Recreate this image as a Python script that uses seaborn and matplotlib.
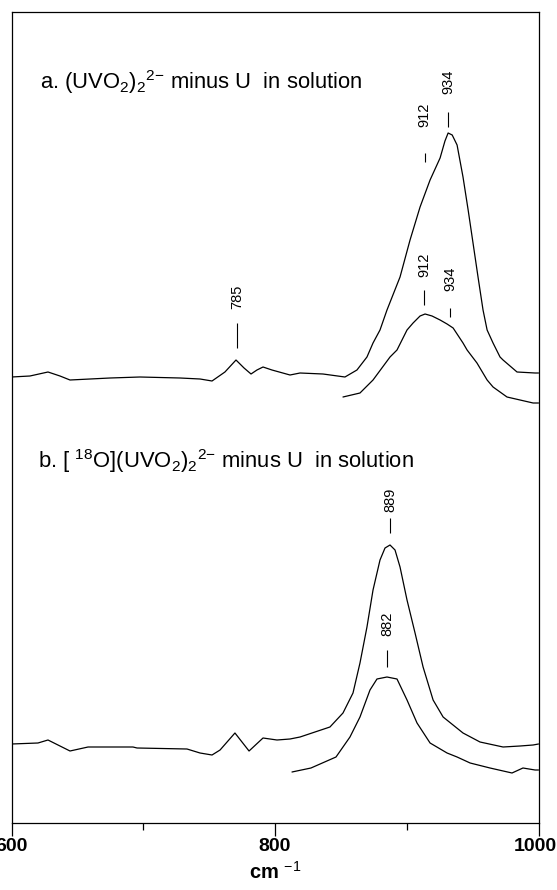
import matplotlib
matplotlib.use("Agg")
import matplotlib.pyplot as plt
import matplotlib.transforms as mtransforms
import seaborn as sns
import pandas as pd
import numpy as np

# ---------------- data (wavenumber cm^-1, intensity in arbitrary units) ----------------
a_top_x = [600, 614.0, 627.7, 636.8, 644.4, 659.6, 674.8, 697.5, 727.9, 743.1, 752.2, 762.0,
           770.4, 776.5, 781.8, 786.3, 790.9, 797.7, 811.4, 819.0, 836.4, 853.1, 862.2, 869.8,
           874.4, 879.7, 885.0, 894.9, 902.5, 910.1, 917.7, 925.3, 929.0, 931.4, 934.5, 938.2,
           942.7, 946.6, 950.3, 954.1, 957.9, 961.0, 965.5, 970.8, 973.1, 983.7, 997.4, 1000]
a_top_y = [446, 447, 451, 447, 443, 444, 445, 446, 445, 444, 442, 451,
           463, 455, 449, 453, 456, 453, 448, 450, 449, 446, 453, 466,
           480, 493, 513, 546, 583, 616, 643, 665, 682, 690, 688, 678,
           646, 613, 580, 546, 513, 493, 480, 466, 463, 451, 450, 450]

a_low_x = [851.6, 864.5, 874.4, 887.3, 892.6, 900.2, 904.8, 910.1, 913.9, 919.2, 925.3, 930.6,
           935.2, 942.7, 945.8, 953.3, 961.0, 965.5, 976.1, 986.0, 995.9, 1000]
a_low_y = [426, 430, 443, 466, 473, 493, 500, 507, 509, 507, 503, 499,
           495, 480, 473, 460, 443, 436, 426, 423, 420, 420]

b_top_x = [600, 620.1, 627.7, 644.4, 658.1, 692.2, 695.3, 733.2, 743.1, 752.2, 758.3, 769.6,
           780.3, 790.9, 801.5, 811.4, 819.0, 841.7, 851.6, 859.2, 864.5, 869.8, 874.4, 879.7,
           883.5, 887.3, 891.1, 894.9, 900.2, 906.3, 912.4, 920.0, 927.6, 942.7, 955.6, 973.1,
           986.0, 995.9, 1000]
b_top_y = [79, 80, 83, 72, 76, 76, 75, 74, 70, 68, 73, 90,
           72, 85, 83, 84, 86, 96, 110, 130, 160, 196, 233, 263,
           275, 278, 273, 256, 223, 190, 156, 123, 106, 90, 81, 76,
           77, 78, 79]

b_low_x = [812.9, 827.3, 846.3, 856.9, 864.5, 872.1, 877.4, 885.0, 892.6, 900.2, 907.8, 917.7,
           930.6, 938.2, 948.1, 963.2, 979.9, 988.2, 997.4, 1000]
b_low_y = [51, 55, 66, 86, 106, 133, 144, 146, 144, 123, 100, 80,
           70, 66, 60, 55, 50, 55, 53, 53]

# peak annotations
peak_text = ["785", "912", "934", "912", "934", "889", "882"]
peak_x = [771, 913.5, 931.4, 913.0, 932.8, 887.3, 885.0]
peak_line_lo = [475, 661, 696, 518, 506, 290, 156]
peak_line_hi = [500, 670, 711, 533, 515, 305, 173]
peak_text_y = [526, 708, 741, 558, 544, 323, 199]

x_major = [600, 800, 1000]
x_minor = [700, 900]
x_major_labels = ["600", "800", "1000"]

title_a = r"a. (UVO$_2$)$_2$$^{2\mathrm{-}}$ minus U  in solution"
title_b = r"b. [ $^{18}$O](UVO$_2$)$_2$$^{2\mathrm{-}}$ minus U  in solution"

# ---------------- style ----------------
sns.set_style("ticks")
plt.rcParams["font.family"] = ["Liberation Sans", "DejaVu Sans"]
plt.rcParams["mathtext.fontset"] = "custom"
plt.rcParams["mathtext.rm"] = "Liberation Sans"
plt.rcParams["mathtext.it"] = "Liberation Sans:italic"
plt.rcParams["mathtext.bf"] = "Liberation Sans:bold"
plt.rcParams["mathtext.default"] = "rm"
plt.rcParams["text.color"] = "black"
plt.rcParams["axes.labelcolor"] = "black"
plt.rcParams["xtick.color"] = "black"
plt.rcParams["axes.edgecolor"] = "black"

fig = plt.figure(figsize=(5.57, 8.90), dpi=100)
ax = fig.add_axes([11.5 / 557, 67 / 890, 527 / 557, 811 / 890])

frames = []
for name, xs, ys in [("a_top", a_top_x, a_top_y), ("a_low", a_low_x, a_low_y),
                     ("b_top", b_top_x, b_top_y), ("b_low", b_low_x, b_low_y)]:
    frames.append(pd.DataFrame({"cm": xs, "I": ys, "trace": name}))
df = pd.concat(frames, ignore_index=True)

sns.lineplot(data=df, x="cm", y="I", units="trace", estimator=None, color="black",
             linewidth=0.9, sort=False, ax=ax, legend=False)

ax.vlines(peak_x, peak_line_lo, peak_line_hi, color="black", linewidth=0.8)
for t, x, y in zip(peak_text, peak_x, peak_text_y):
    ax.text(x, y, t, rotation=90, ha="center", va="center", fontsize=10.5, color="black")

ax.text(621.6, 734, title_a, fontsize=15.8, ha="left", va="baseline", color="black")
ax.text(620.1, 355, title_b, fontsize=15.8, ha="left", va="baseline", color="black")

ax.set_xlim(600, 1000)
ax.set_ylim(0, 811)
ax.set_yticks([])
ax.set_xticks(x_major)
ax.set_xticklabels(x_major_labels, fontsize=14, fontweight="bold", color="black")
ax.set_xticks(x_minor, minor=True)
ax.tick_params(axis="x", which="major", length=9, width=0.9, direction="out", pad=2)
ax.tick_params(axis="x", which="minor", length=5, width=0.9, direction="out")
ax.set_xlabel(r"cm $^{-1}$", fontsize=14.5, fontweight="bold", labelpad=4, color="black")
ax.set_ylabel("")
for s in ax.spines.values():
    s.set_linewidth(0.9)
    s.set_color("black")
    s.set_visible(True)

# nudge the last tick label slightly inward so it stays inside the figure
last = ax.get_xticklabels()[-1]
last.set_transform(last.get_transform() + mtransforms.ScaledTranslation(-3 / 100, 0, fig.dpi_scale_trans))

fig.savefig("out.png", dpi=100)
